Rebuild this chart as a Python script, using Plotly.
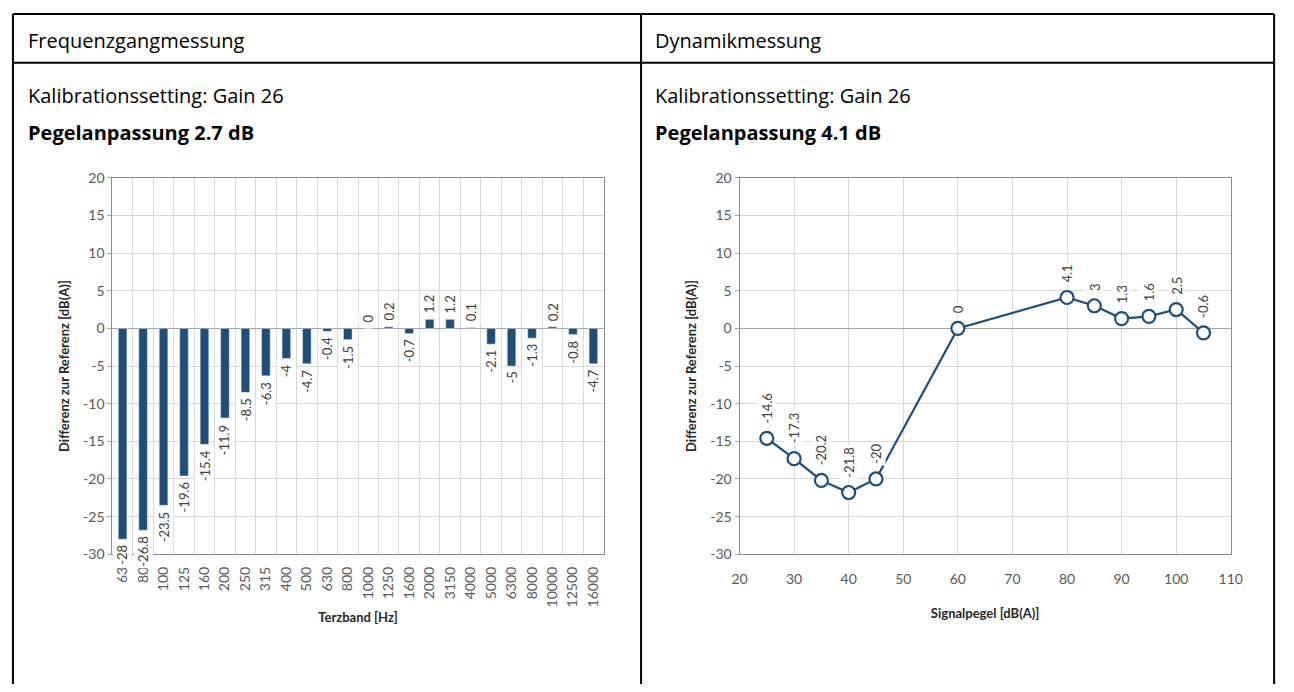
import plotly.graph_objects as go

W, H = 1294, 692

# Frequenzgangmessung (Terzband)
terzband = ["63", "80", "100", "125", "160", "200", "250", "315", "400", "500",
            "630", "800", "1000", "1250", "1600", "2000", "3150", "4000", "5000",
            "6300", "8000", "10000", "12500", "16000"]
frequenz_diff = [-28, -26.8, -23.5, -19.6, -15.4, -11.9, -8.5, -6.3, -4, -4.7,
                 -0.4, -1.5, 0, 0.2, -0.7, 1.2, 1.2, 0.1, -2.1, -5, -1.3, 0.2, -0.8, -4.7]

# Dynamikmessung
signalpegel = [25, 30, 35, 40, 45, 60, 80, 85, 90, 95, 100, 105]
dynamik_diff = [-14.6, -17.3, -20.2, -21.8, -20, 0, 4.1, 3, 1.3, 1.6, 2.5, -0.6]

# y ticks (plain hyphen like Excel, not the unicode minus)
y_ticks = [20, 15, 10, 5, 0, -5, -10, -15, -20, -25, -30]

BLUE = "#1f4e79"
TXT_FONT = "Open Sans"
CHART_FONT = "Lato"


def px_x(x):
    return x / W


def px_y(y):
    return 1 - y / H


fig = go.Figure()

fig.add_trace(go.Bar(x=terzband, y=frequenz_diff, marker_color=BLUE, width=0.42,
                     xaxis="x", yaxis="y", showlegend=False, hoverinfo="skip"))

fig.add_trace(go.Scatter(x=signalpegel, y=dynamik_diff, mode="lines+markers",
                         line=dict(color=BLUE, width=2.2),
                         marker=dict(symbol="circle", size=13, color="white",
                                     line=dict(color=BLUE, width=2.2)),
                         xaxis="x2", yaxis="y2", showlegend=False, hoverinfo="skip"))

tickfont = dict(family=CHART_FONT, size=14, color="#595959")
title_font = dict(family=CHART_FONT, size=13, color="#262626")
yaxis_common = dict(range=[-30, 20], tickmode="array", tickvals=y_ticks,
                    ticktext=[str(t) for t in y_ticks],
                    showgrid=True, gridcolor="#d9d9d9",
                    showline=True, mirror=True, linecolor="#8c8c8c", linewidth=1,
                    zeroline=True, zerolinecolor="#a6a6a6", zerolinewidth=1,
                    ticks="outside", ticklen=4, tickcolor="#a6a6a6",
                    tickfont=tickfont,
                    title=dict(text="<b>Differenz zur Referenz [dB(A)]</b>",
                               font=title_font, standoff=10))

fig.update_layout(
    width=W, height=H, margin=dict(l=0, r=0, t=0, b=0),
    paper_bgcolor="white", plot_bgcolor="white",
    xaxis=dict(domain=[px_x(106), px_x(605)], type="category", tickangle=-90,
               range=[-0.5, len(terzband) - 0.5],
               showgrid=True, gridcolor="#d9d9d9", tickson="boundaries",
               showline=True, mirror=True, linecolor="#8c8c8c", ticks="",
               tickfont=tickfont, ticklabelstandoff=6, anchor="y",
               title=dict(text="<b>Terzband [Hz]</b>", font=title_font, standoff=6)),
    yaxis=dict(domain=[px_y(559), px_y(173)], anchor="x", **yaxis_common),
    xaxis2=dict(domain=[px_x(743), px_x(1242)], range=[20, 110], dtick=10,
                showgrid=True, gridcolor="#d9d9d9", showline=True, mirror=True,
                linecolor="#8c8c8c", zeroline=False, ticks="", tickfont=tickfont,
                ticklabelstandoff=12, anchor="y2",
                title=dict(text="<b>Signalpegel [dB(A)]</b>", font=title_font, standoff=22)),
    yaxis2=dict(domain=[px_y(559), px_y(173)], anchor="x2", **yaxis_common),
)

# data labels (white boxes, rotated like the Excel ones)
label_font = dict(family=CHART_FONT, size=13, color="#404040")
for i, v in enumerate(frequenz_diff):
    fig.add_annotation(x=i, y=v, xref="x", yref="y", text=f"{v:g}", showarrow=False,
                       textangle=-90, font=label_font, bgcolor="white", borderpad=1,
                       yanchor="top" if v < 0 else "bottom", yshift=-4 if v < 0 else 4)

for x, v in zip(signalpegel, dynamik_diff):
    fig.add_annotation(x=x, y=v, xref="x2", yref="y2", text=f"{v:g}", showarrow=False,
                       textangle=-90, font=label_font, bgcolor="white", borderpad=1,
                       yanchor="bottom", yshift=13)

# table frame
frame = [
    (5, 5, 1286, 5),       # top
    (5, 5, 5, 692),        # left
    (1286, 5, 1286, 692),  # right
    (643, 5, 643, 692),    # column divider
    (5, 55, 1286, 55),     # header line
]
for x0, y0, x1, y1 in frame:
    fig.add_shape(type="line", xref="paper", yref="paper",
                  x0=px_x(x0), y0=px_y(y0), x1=px_x(x1), y1=px_y(y1),
                  line=dict(color="black", width=2))

# table text
cells = [
    (18, 32, "Frequenzgangmessung", False),
    (18, 89, "Kalibrationssetting: Gain 26", False),
    (18, 127, "Pegelanpassung 2.7 dB", True),
    (655, 32, "Dynamikmessung", False),
    (655, 89, "Kalibrationssetting: Gain 26", False),
    (655, 127, "Pegelanpassung 4.1 dB", True),
]
for x, y, txt, bold in cells:
    fig.add_annotation(x=px_x(x), y=px_y(y), xref="paper", yref="paper",
                       text=f"<b>{txt}</b>" if bold else txt, showarrow=False,
                       xanchor="left", yanchor="middle",
                       font=dict(family=TXT_FONT, size=20, color="black"))

fig.write_html("out.html", config={"displayModeBar": False},
               post_script="document.body.style.margin='0';")
